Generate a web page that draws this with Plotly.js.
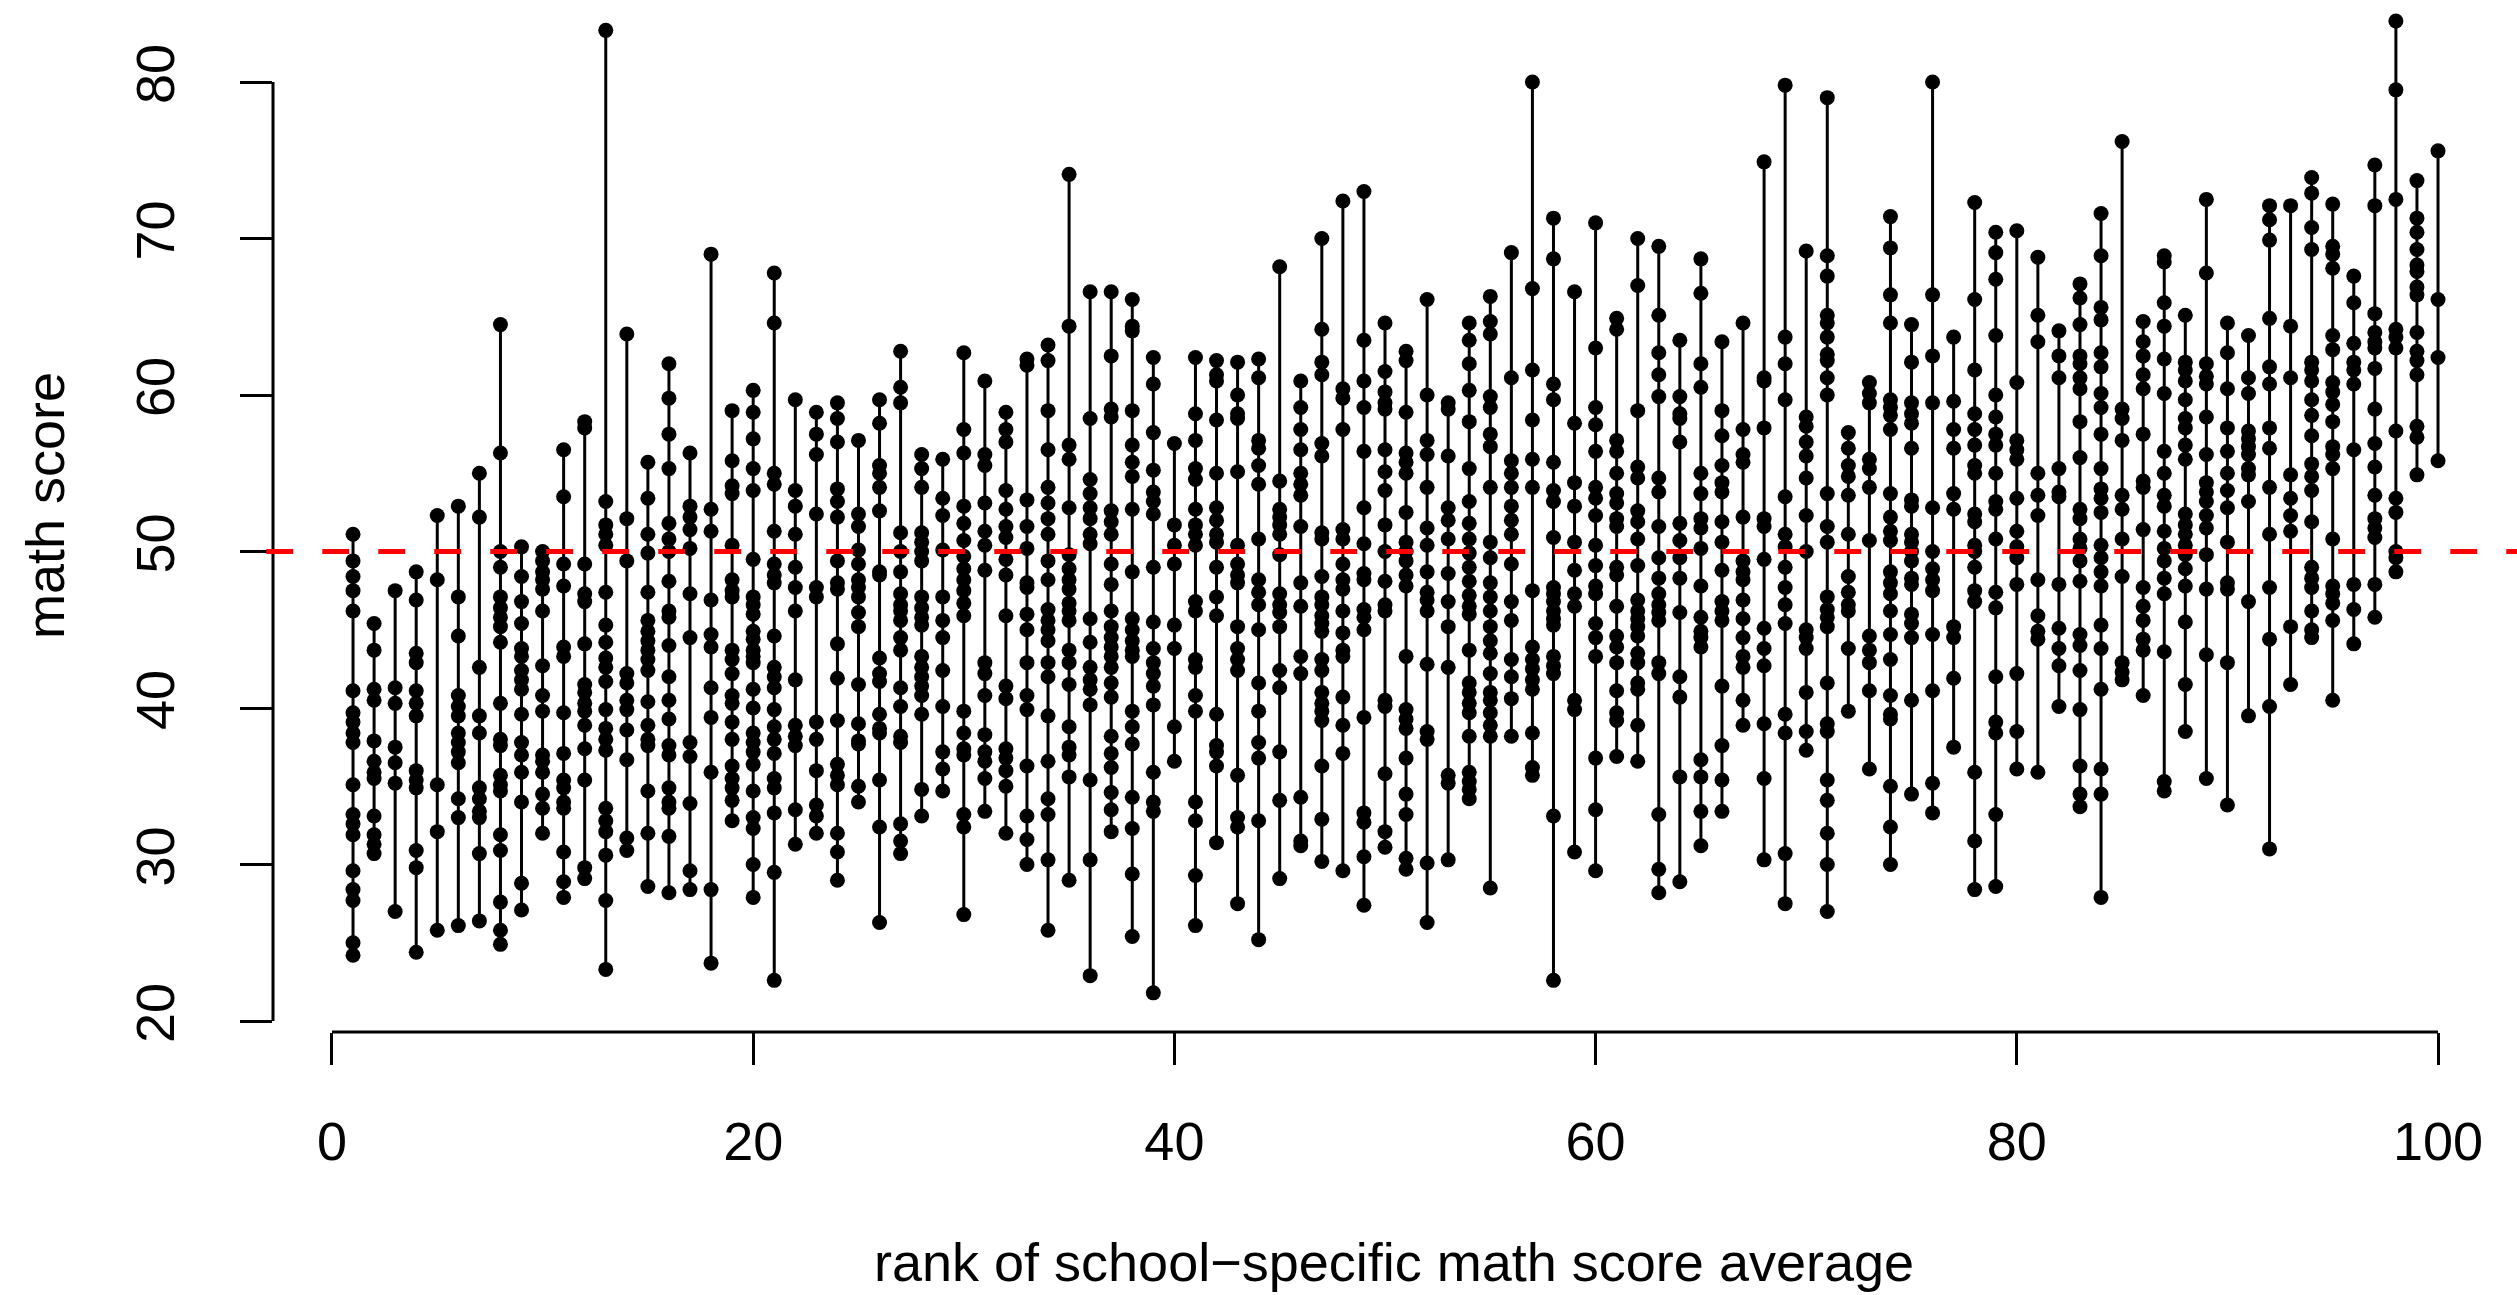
<!DOCTYPE html>
<html><head><meta charset="utf-8">
<script src="https://cdn.plot.ly/plotly-3.0.1.min.js"></script>
<style>html,body{margin:0;padding:0;background:#fff;} #chart{width:2517px;height:1295px;}</style>
</head><body><div id="chart"></div>
<script>
// school rank (x) for each list of student math scores
const ranks = [1,2,3,4,5,6,7,8,9,10,11,12,13,14,15,16,17,18,19,20,21,22,23,24,25,
  26,27,28,29,30,31,32,33,34,35,36,37,38,39,40,41,42,43,44,45,46,47,48,49,50,
  51,52,53,54,55,56,57,58,59,60,61,62,63,64,65,66,67,68,69,70,71,72,73,74,75,
  76,77,78,79,80,81,82,83,84,85,86,87,88,89,90,91,92,93,94,95,96,97,98,99,100];

const scoresRanks01to25 = [
  [51.1,49.4,48.4,47.5,46.2,41.1,39.7,39.1,38.4,37.8,35.1,33.2,32.6,31.9,29.6,28.4,27.7,25.0,24.2],
  [45.4,43.7,41.2,40.5,37.9,36.6,35.9,35.5,33.1,31.9,31.3,30.7],
  [47.5,41.3,40.3,37.5,36.5,35.2,27.0],
  [48.7,46.9,43.5,42.9,41.1,40.3,39.5,36.0,35.4,34.9,30.9,29.8,24.4],
  [52.3,48.2,35.1,32.1,25.8],
  [52.9,47.1,44.6,40.8,40.1,39.5,38.4,37.8,37.2,36.5,34.2,33.0,26.1],
  [55.0,52.2,42.6,39.5,38.4,34.9,34.2,33.4,33.0,30.7,26.4],
  [64.5,56.3,50.0,49.0,47.1,46.4,45.8,45.2,44.2,40.3,38.0,37.6,35.7,35.1,34.7,31.9,30.9,27.6,25.8,24.9],
  [50.3,48.4,46.8,45.4,43.8,43.3,42.4,41.8,41.2,39.6,37.8,37.0,35.9,34.0,28.8,27.1],
  [50.0,49.4,48.7,48.2,47.6,46.2,42.7,40.8,39.8,37.0,36.6,35.9,34.5,33.6,32.0],
  [56.5,53.5,49.2,47.8,43.9,43.3,39.7,37.1,35.4,34.9,34.0,33.6,30.8,28.9,27.9],
  [58.3,57.9,49.2,47.3,46.8,44.1,41.5,41.0,40.3,39.8,38.9,37.4,35.4,29.8,29.1],
  [83.3,53.2,51.7,51.1,50.4,47.4,45.3,44.2,43.2,42.6,41.7,39.9,38.7,38.0,37.3,33.6,32.8,32.1,30.6,27.7,23.3],
  [63.9,52.1,49.4,42.2,41.6,40.5,39.9,38.6,36.7,31.7,30.9],
  [55.7,53.4,51.1,49.9,47.4,45.6,44.9,44.3,43.7,43.1,42.4,40.4,38.9,38.0,37.6,34.7,32.0,28.6],
  [62.0,59.8,57.5,55.3,51.8,50.8,50.0,48.1,46.2,45.8,44.0,42.0,40.5,39.3,37.6,37.0,34.9,34.0,33.6,31.8,28.2],
  [56.3,52.9,52.2,51.4,50.2,47.3,44.5,37.8,36.9,33.9,29.6,28.4],
  [69.0,52.7,51.3,46.9,44.7,43.9,41.3,39.4,35.9,28.4,23.7],
  [59.0,55.8,54.2,53.7,50.4,48.2,47.5,47.1,43.7,43.1,42.2,40.8,40.3,39.1,38.0,36.3,35.5,34.9,34.1,32.8],
  [60.3,58.9,57.2,55.3,53.9,49.5,47.1,46.6,46.0,44.9,44.4,43.7,43.3,42.9,41.2,40.0,38.4,37.8,37.2,36.4,34.7,33.0,32.3,30.0,27.9],
  [67.8,64.6,55.0,54.3,51.3,49.2,48.5,48.0,44.6,42.6,42.0,41.3,39.9,38.8,38.0,37.1,35.5,34.9,33.3,29.5,22.6],
  [59.7,53.9,52.9,51.1,49.0,47.7,46.2,41.8,38.9,38.2,37.6,33.5,31.3],
  [58.9,57.5,56.2,52.4,47.7,47.1,39.1,38.0,36.0,33.8,33.1,32.0],
  [59.5,58.5,57.0,54.0,53.2,52.2,49.4,48.0,47.6,44.1,41.9,39.2,36.4,35.7,35.1,32.0,30.8,29.0],
  [57.1,52.4,51.6,50.1,49.2,48.2,47.7,47.1,46.1,45.2,41.5,39.0,37.9,37.7,35.0,34.0]
];

const scoresRanks26to50 = [
  [59.7,58.2,55.5,55.0,54.1,52.6,48.7,48.5,43.2,42.2,41.7,39.6,38.7,38.4,35.4,32.4,26.3],
  [62.8,60.5,59.5,51.2,50.0,48.7,47.3,46.6,46.2,45.6,44.5,43.7,41.3,40.1,38.2,37.8,32.6,31.5,30.7],
  [56.2,55.3,54.1,51.2,50.6,50.0,49.4,47.1,46.4,45.8,45.3,43.3,42.6,42.0,41.4,40.8,39.6,34.8,33.1],
  [55.9,53.4,52.3,50.1,47.1,45.6,44.5,42.4,40.1,37.2,36.1,34.7],
  [62.7,57.8,56.3,52.9,51.8,50.7,49.7,48.9,48.2,47.5,46.7,45.9,39.8,38.4,37.4,37.0,33.2,32.4,26.8],
  [60.9,56.2,55.5,53.1,51.3,50.4,48.8,42.9,42.2,40.8,38.3,37.2,36.6,35.5,33.4],
  [58.9,57.8,57.0,53.9,52.7,51.6,50.9,49.5,48.5,45.9,41.4,40.6,37.4,36.8,36.0,35.0,32.0],
  [62.3,61.9,53.3,51.6,50.2,48.0,47.7,46.0,45.0,42.9,40.8,39.9,36.3,33.1,31.6,30.0],
  [63.2,62.2,59.0,56.5,54.1,53.1,52.1,51.1,49.4,48.2,46.3,45.6,45.0,44.3,42.9,42.0,39.5,36.6,34.2,33.2,30.3,25.8],
  [74.1,64.4,56.8,55.9,52.8,49.8,48.9,48.2,47.6,46.7,46.2,45.6,43.7,42.9,41.5,38.8,37.5,37.0,35.6,29.0],
  [66.6,58.5,54.6,53.7,52.8,52.1,51.1,50.5,45.7,44.2,42.6,41.8,41.2,40.2,35.4,30.3,22.9],
  [66.6,62.5,59.1,58.6,52.6,51.9,51.1,49.2,47.9,46.2,45.2,44.5,43.9,43.3,42.6,41.6,40.7,38.2,37.1,36.2,34.6,33.5,32.1],
  [66.1,64.4,64.1,59.0,56.8,55.7,54.8,52.7,48.7,45.7,45.0,44.3,43.7,43.3,39.8,38.8,37.7,34.3,32.3,29.4,25.4],
  [62.4,60.7,57.6,55.2,53.8,53.2,52.4,49.0,45.5,43.8,42.9,42.2,41.4,40.2,35.9,34.0,33.4,21.8],
  [56.9,51.7,50.4,49.2,45.3,43.8,38.8,36.6],
  [62.4,58.8,57.1,55.3,54.6,52.7,51.7,51.1,50.4,46.8,46.2,43.1,42.6,40.8,39.8,34.0,32.8,29.3,26.1],
  [62.2,61.3,60.9,58.4,55.0,52.8,52.0,51.1,50.6,49.0,47.1,45.9,39.6,37.6,37.2,36.3,31.4],
  [62.1,60.0,58.8,58.5,55.1,50.4,49.2,48.5,48.0,45.2,43.8,43.1,42.4,35.7,33.0,32.4,27.5],
  [62.3,61.1,57.1,56.6,55.5,54.3,50.8,48.2,47.4,46.6,45.0,41.6,39.8,37.8,36.8,32.8,25.2],
  [68.2,54.5,52.7,52.2,51.7,51.1,49.8,47.3,46.6,46.1,45.2,42.4,41.3,37.2,34.1,29.1],
  [60.9,59.2,57.8,56.5,55.0,54.3,53.6,51.6,48.0,46.5,43.3,42.2,34.3,31.5,31.2],
  [70.0,64.2,62.1,61.3,56.9,56.1,51.2,50.8,48.4,47.1,46.6,45.9,45.4,44.9,43.1,42.4,41.0,40.3,39.8,39.2,36.3,32.9,30.2],
  [72.4,60.4,59.8,57.8,51.4,50.8,49.2,48.2,47.6,46.2,44.8,43.7,43.3,40.7,38.9,37.1,29.6],
  [73.0,63.5,60.9,59.2,56.4,52.8,50.5,48.6,48.2,46.3,45.8,45.0,39.4,33.3,32.7,30.5,27.4],
  [64.6,61.5,60.2,59.5,59.1,56.5,55.1,53.9,51.7,50.0,48.1,46.6,46.2,40.5,40.1,35.8,32.1,31.1]
];

const scoresRanks51to75 = [
  [62.8,62.2,58.9,56.3,55.7,55.0,52.5,50.6,50.0,49.4,48.5,47.8,43.3,39.9,39.3,38.7,36.8,34.5,33.2,30.4,29.7],
  [66.1,60.0,57.1,56.2,54.1,51.5,50.4,48.7,47.4,46.9,46.2,42.8,38.5,38.0,30.1,26.3],
  [59.5,59.1,56.1,52.8,52.0,50.8,48.6,46.8,45.2,42.6,35.7,35.2,30.3],
  [64.6,63.5,62.0,60.3,58.3,55.3,53.2,51.8,50.8,49.9,49.0,48.1,47.2,46.5,46.0,43.7,41.6,41.0,40.3,39.7,38.2,35.9,35.3,34.8,34.2],
  [66.3,64.7,63.9,59.9,59.2,57.5,56.7,54.1,50.6,49.6,48.0,47.1,46.2,45.2,44.3,43.5,42.2,41.0,40.5,39.7,38.9,38.2,28.5],
  [69.1,61.1,55.8,55.0,54.1,52.9,52.0,51.1,49.2,46.8,45.6,43.1,42.0,40.6,38.2],
  [80.0,66.8,61.6,58.4,55.9,54.1,47.5,43.9,43.1,42.5,41.8,41.2,38.4,36.2,35.7],
  [71.3,68.7,60.7,59.7,55.7,53.9,53.2,50.9,47.7,47.3,46.8,46.2,45.7,45.3,43.3,42.7,42.2,33.1,22.6],
  [66.6,58.2,54.4,52.9,50.6,48.8,47.3,46.5,40.5,39.9,30.8],
  [71.0,63.0,59.2,58.1,56.4,54.1,53.4,52.3,50.4,49.1,47.8,47.3,45.4,44.5,43.3,36.8,33.5,29.6],
  [64.9,64.2,57.1,56.4,55.0,53.7,53.1,52.1,51.6,49.0,48.5,46.5,44.6,43.9,42.9,41.1,39.7,39.2,36.9],
  [70.0,67.0,59.0,55.4,54.7,52.6,51.9,50.8,49.1,46.9,46.2,45.7,45.2,44.6,43.5,42.9,41.6,41.2,38.9,36.6],
  [69.5,65.1,62.7,61.3,59.9,54.7,53.8,51.6,49.6,48.3,47.3,46.6,46.1,45.6,42.9,42.2,33.2,29.7,28.2],
  [63.5,59.9,58.8,58.5,57.0,51.8,50.7,49.6,48.3,46.1,42.0,40.7,35.6,28.9],
  [68.7,66.5,62.0,60.5,55.0,53.7,52.1,51.5,50.2,47.8,45.8,44.9,44.5,43.9,36.7,35.6,33.4,31.2],
  [63.4,59.0,57.4,55.5,54.4,53.8,51.9,50.6,48.8,46.8,46.2,45.6,41.4,37.6,35.4,33.4],
  [64.6,57.8,56.2,55.7,52.2,49.4,48.7,48.2,46.9,45.7,44.5,43.3,42.6,40.5,38.9],
  [74.9,61.1,60.9,57.9,52.1,51.6,49.5,45.1,43.8,42.7,39.0,35.5,30.3],
  [79.8,63.7,62.0,59.7,53.5,51.1,50.3,49.0,47.7,46.6,45.4,39.6,38.4,30.7,27.5],
  [69.2,58.6,58.0,57.0,56.1,54.7,52.3,50.0,45.0,44.5,43.8,41.0,38.5,37.3],
  [79.0,68.9,67.6,65.1,64.6,63.7,62.6,62.2,61.1,60.0,53.7,51.6,50.6,47.1,46.3,45.8,45.2,41.6,39.0,38.5,35.4,34.1,32.0,30.0,27.0],
  [57.6,56.6,55.5,54.8,53.6,51.1,48.4,47.4,46.6,46.2,43.8,39.8],
  [60.8,60.1,59.5,55.9,55.3,54.1,50.7,44.6,43.7,42.9,41.1,36.1],
  [71.4,69.4,66.4,64.6,59.7,59.2,58.7,57.8,53.7,52.2,51.3,50.7,48.7,48.0,47.3,46.2,44.7,43.1,40.8,39.6,39.3,35.0,32.4,30.0],
  [64.5,62.1,59.5,58.8,58.2,56.6,53.3,52.9,51.1,50.6,50.0,49.4,48.3,47.9,46.0,45.4,44.5,40.5,34.5]
];

const scoresRanks76to100 = [
  [80.0,66.4,62.5,59.5,52.8,50.0,48.9,48.2,47.5,44.7,41.1,35.2,33.3],
  [63.7,59.6,57.8,56.6,53.7,52.7,45.2,44.5,41.9,37.5],
  [72.3,66.1,61.6,58.8,57.8,56.8,55.5,55.0,52.4,51.9,50.4,50.0,49.0,47.5,46.8,35.9,31.5,28.4],
  [70.4,69.1,67.4,63.8,60.0,58.6,57.5,56.8,55.0,53.2,52.7,50.8,47.4,46.4,42.0,39.1,38.4,33.2,28.6],
  [70.5,60.8,57.1,56.5,55.9,53.4,51.3,50.3,49.6,47.9,42.2,38.5,36.1],
  [68.8,65.1,63.4,55.0,53.6,52.3,48.2,45.9,44.9,44.4,35.9],
  [64.1,62.5,61.1,55.3,53.8,53.5,47.9,45.1,43.8,42.7,40.1],
  [67.1,66.2,64.5,62.5,62.0,61.1,60.4,58.3,56.0,52.7,52.1,50.8,50.2,49.4,48.1,44.7,44.0,42.4,39.9,36.3,34.5,33.7],
  [71.6,68.9,65.6,64.8,62.7,61.8,60.1,59.2,57.5,55.3,54.0,53.4,52.5,50.4,49.6,48.7,47.8,45.3,43.8,41.2,36.1,34.5,27.9],
  [76.2,59.1,58.5,57.1,53.6,52.7,50.8,48.4,42.9,42.3,41.8],
  [64.7,63.4,62.5,61.3,60.4,57.5,54.5,54.1,51.4,47.7,46.5,45.6,44.4,43.7,40.8],
  [68.9,68.5,65.9,64.4,62.3,60.1,56.4,55.0,53.6,52.9,51.3,50.2,49.4,48.3,47.3,43.6,35.3,34.7],
  [65.1,62.1,61.6,60.9,59.7,58.5,57.9,56.8,55.9,52.4,51.7,51.1,50.4,49.8,48.9,47.8,45.5,41.5,38.5],
  [72.5,67.8,62.0,61.2,60.7,58.6,56.2,54.4,53.8,53.2,52.3,51.5,49.8,47.6,43.4,35.5],
  [64.6,62.7,60.4,57.9,56.4,55.0,53.9,52.8,50.6,48.0,47.6,42.9,33.8],
  [63.8,61.1,60.1,57.7,57.2,56.7,56.2,55.3,54.9,53.2,46.8,39.5],
  [72.1,71.2,69.9,64.9,61.8,60.7,57.9,56.6,54.1,51.1,47.7,44.4,40.1,31.0],
  [72.1,64.4,61.1,54.9,53.4,52.3,51.3,45.2,41.5],
  [73.9,72.9,70.7,69.3,62.1,61.6,60.9,59.7,58.7,57.4,55.6,54.8,53.9,51.9,49.0,48.3,47.7,46.2,45.0,44.5],
  [72.2,69.5,69.0,68.1,63.8,62.9,60.8,60.2,59.4,58.3,56.7,56.2,55.3,50.8,47.8,47.3,46.7,45.6,40.5],
  [67.6,65.9,63.3,62.1,61.6,60.7,56.5,47.9,46.3,44.1],
  [74.7,72.1,65.2,64.0,63.4,63.0,61.7,59.1,56.9,55.4,53.6,52.1,51.5,50.9,47.9,45.8],
  [83.9,79.5,72.5,64.2,63.7,63.0,57.7,53.4,52.5,50.0,49.6,48.7],
  [73.7,71.3,70.4,69.3,68.3,67.9,66.9,66.4,64.0,62.8,62.2,61.3,58.0,57.3,54.9],
  [75.6,66.1,62.4,55.8]
];

const referenceScore = 50;
const xTickVals = [0, 20, 40, 60, 80, 100];
const yTickVals = [20, 30, 40, 50, 60, 70, 80];
const xTitle = "rank of school\u2212specific math score average";
const yTitle = "math score";

const allScores = [].concat(scoresRanks01to25, scoresRanks26to50, scoresRanks51to75, scoresRanks76to100);

const segX = [], segY = [], ptX = [], ptY = [];
allScores.forEach(function (s, i) {
  const r = ranks[i];
  segX.push(r, r, null);
  segY.push(Math.min.apply(null, s), Math.max.apply(null, s), null);
  s.forEach(function (v) { ptX.push(r); ptY.push(v); });
});

const FONT = 'Liberation Sans, Arial, Helvetica, sans-serif';

const traces = [
  { type: 'scatter', mode: 'lines', x: segX, y: segY,
    line: { color: '#000', width: 3 }, hoverinfo: 'skip', cliponaxis: false, showlegend: false },
  { type: 'scatter', mode: 'markers', x: ptX, y: ptY,
    marker: { color: '#000', size: 15, line: { width: 0 } }, cliponaxis: false, showlegend: false }
];

const layout = {
  width: 2517, height: 1295,
  margin: { l: 273, r: 0, t: 0, b: 263, pad: 0 },
  paper_bgcolor: '#fff', plot_bgcolor: '#fff',
  font: { family: FONT, size: 54, color: '#000' },
  showlegend: false,
  xaxis: {
    range: [-2.80, 103.75], tickvals: xTickVals, ticktext: xTickVals.map(String),
    ticks: 'outside', ticklen: 32, tickwidth: 3, tickcolor: '#000',
    showgrid: false, zeroline: false, showline: false,
    tickfont: { family: FONT, size: 54, color: '#000' }, ticklabelstandoff: 30
  },
  yaxis: {
    range: [19.30, 85.24], tickvals: yTickVals, ticktext: yTickVals.map(String),
    ticks: 'outside', ticklen: 32, tickwidth: 3, tickcolor: '#000', tickangle: -90,
    showgrid: false, zeroline: false, showline: false,
    tickfont: { family: FONT, size: 54, color: '#000' }, ticklabelstandoff: 44
  },
  shapes: [
    { type: 'line', xref: 'paper', yref: 'y', x0: 0, x1: 0, y0: yTickVals[0], y1: yTickVals[yTickVals.length - 1],
      line: { color: '#000', width: 3 } },
    { type: 'line', xref: 'x', yref: 'paper', x0: xTickVals[0], x1: xTickVals[xTickVals.length - 1], y0: 0, y1: 0,
      line: { color: '#000', width: 3 } },
    { type: 'line', xref: 'paper', yref: 'y', x0: -0.003, x1: 1, y0: referenceScore, y1: referenceScore,
      line: { color: '#ff0000', width: 5, dash: '27px,29px' }, layer: 'above' }
  ],
  annotations: [
    { text: xTitle, xref: 'paper', yref: 'paper', x: 0.4995, y: -0.2225, xanchor: 'center', yanchor: 'middle',
      showarrow: false, font: { family: FONT, size: 54, color: '#000' } },
    { text: yTitle, xref: 'paper', yref: 'paper', x: -0.1016, y: 0.5097, xanchor: 'center', yanchor: 'middle',
      textangle: -90, showarrow: false, font: { family: FONT, size: 54, color: '#000' } }
  ]
};

Plotly.newPlot('chart', traces, layout, { staticPlot: true, displayModeBar: false });
</script>
</body></html>
